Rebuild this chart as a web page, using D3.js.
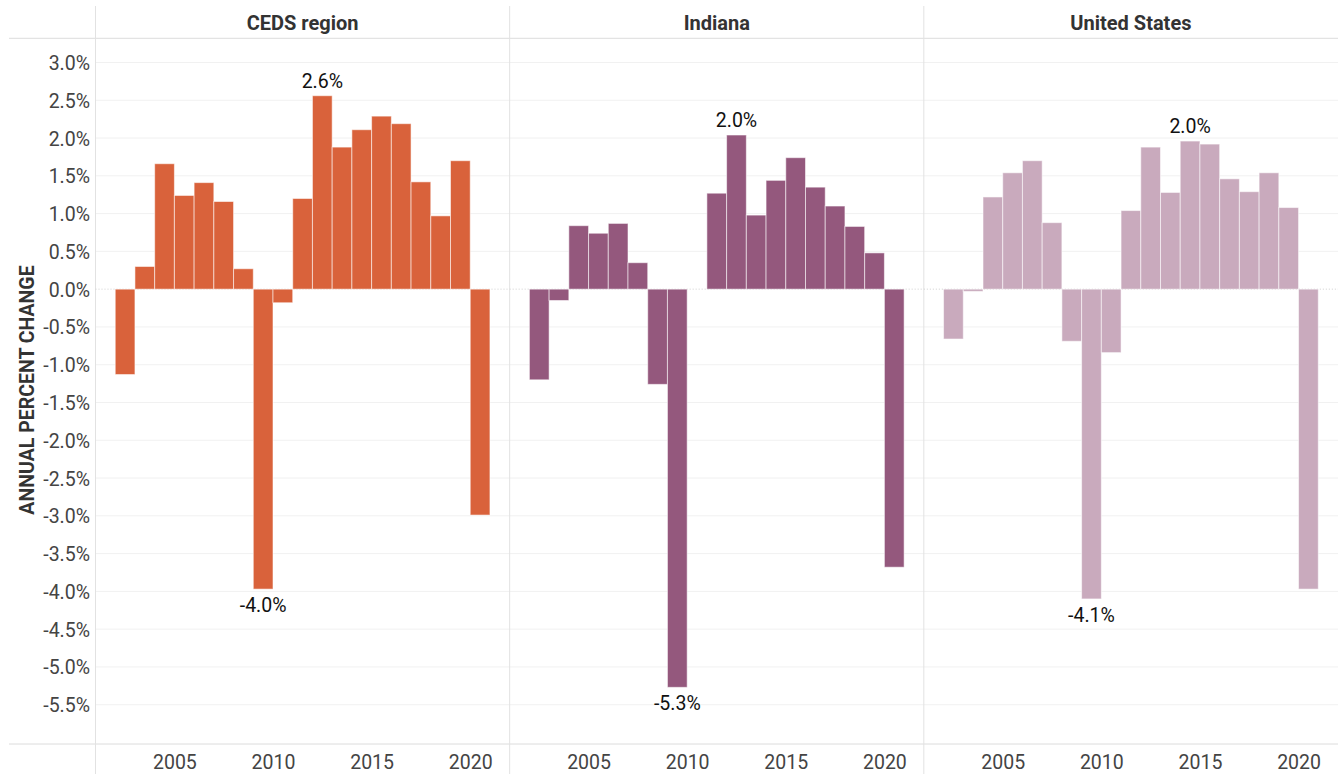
<!DOCTYPE html>
<html>
<head>
<meta charset="utf-8">
<script src="https://cdn.jsdelivr.net/npm/d3@7"></script>
<style>
  body { margin: 0; background: #fff; }
  svg text { font-family: Roboto, "Noto Sans", sans-serif; }
</style>
</head>
<body>
<div id="chart"></div>
<script>
// years shown in every panel
var years = [2002, 2003, 2004, 2005, 2006, 2007, 2008, 2009, 2010, 2011,
             2012, 2013, 2014, 2015, 2016, 2017, 2018, 2019, 2020];

var panels = ["CEDS region", "Indiana", "United States"];

// annual percent change
var cedsValues = [-1.13, 0.30, 1.66, 1.24, 1.41, 1.16, 0.27, -3.97, -0.18, 1.20,
                  2.56, 1.88, 2.11, 2.29, 2.19, 1.42, 0.97, 1.70, -2.99];
var indianaValues = [-1.20, -0.15, 0.84, 0.74, 0.87, 0.35, -1.26, -5.27, 0.00, 1.27,
                     2.04, 0.98, 1.44, 1.74, 1.35, 1.10, 0.83, 0.48, -3.68];
var usValues = [-0.66, -0.03, 1.22, 1.54, 1.70, 0.88, -0.69, -4.10, -0.84, 1.04,
                1.88, 1.28, 1.96, 1.92, 1.46, 1.29, 1.54, 1.08, -3.97];

var yTicks = [3.0, 2.5, 2.0, 1.5, 1.0, 0.5, 0.0, -0.5, -1.0, -1.5, -2.0, -2.5,
              -3.0, -3.5, -4.0, -4.5, -5.0, -5.5];
var xTicks = [2005, 2010, 2015, 2020];

var colors = ["#d9623b", "#94587d", "#c9aabd"];
var series = [cedsValues, indianaValues, usValues];

var W = 1338, H = 774;
var plotLeft = 95.5, plotTop = 38.3, plotBottom = 744;
var panelW = (W - plotLeft) / 3;

var svg = d3.select("#chart").append("svg")
    .attr("width", W)
    .attr("height", H);

var y = d3.scaleLinear().domain([-6.02, 3.32]).range([plotBottom, plotTop]);
// plain hyphen for negatives, like the original
var fmt = function(v) { return (Math.abs(v) < 1e-9 ? 0 : v).toFixed(1) + "%"; };

// grid lines across all panels
svg.append("g")
  .selectAll("line")
  .data(yTicks.filter(function(d) { return d !== 0; }))
  .join("line")
    .attr("x1", plotLeft).attr("x2", W)
    .attr("y1", function(d) { return y(d); })
    .attr("y2", function(d) { return y(d); })
    .attr("stroke", "#f1f1f1")
    .attr("stroke-width", 1);

// y axis labels
var yAxis = d3.axisLeft(y)
    .tickValues(yTicks)
    .tickSize(0)
    .tickPadding(0)
    .tickFormat(fmt);

svg.append("g")
    .attr("transform", "translate(90,0)")
    .call(yAxis)
    .call(function(g) { g.select(".domain").remove(); })
    .selectAll("text")
      .attr("font-size", 19.5)
      .attr("fill", "#444")
      .attr("dy", "0.36em");

svg.append("text")
    .attr("transform", "translate(34," + 390 + ") rotate(-90)")
    .attr("text-anchor", "middle")
    .attr("font-size", 19.5)
    .attr("font-weight", "bold")
    .attr("fill", "#333")
    .text("ANNUAL PERCENT CHANGE");

// frame lines
svg.append("line")
    .attr("x1", 9).attr("x2", W).attr("y1", plotTop).attr("y2", plotTop)
    .attr("stroke", "#dcdcdc");
svg.append("line")
    .attr("x1", 9).attr("x2", W).attr("y1", plotBottom).attr("y2", plotBottom)
    .attr("stroke", "#dcdcdc");

panels.forEach(function(name, i) {
  var x0 = plotLeft + i * panelW;
  var values = series[i];
  var data = years.map(function(yr, j) { return {year: yr, value: values[j]}; });

  var x = d3.scaleLinear().domain([2001, 2022]).range([x0, x0 + panelW]);

  var g = svg.append("g");

  // divider
  g.append("line")
      .attr("x1", x0).attr("x2", x0)
      .attr("y1", 6).attr("y2", H)
      .attr("stroke", "#e2e2e2");

  // zero line
  g.append("line")
      .attr("x1", x0).attr("x2", x0 + panelW)
      .attr("y1", y(0)).attr("y2", y(0))
      .attr("stroke", "#cfcfcf")
      .attr("stroke-dasharray", "1,2");

  // header title
  g.append("text")
      .attr("x", x0 + panelW / 2)
      .attr("y", 30)
      .attr("text-anchor", "middle")
      .attr("font-size", 20)
      .attr("font-weight", "bold")
      .attr("fill", "#333")
      .text(name);

  g.append("g")
    .selectAll("rect")
    .data(data)
    .join("rect")
      .attr("x", function(d) { return x(d.year); })
      .attr("width", function(d) { return x(d.year + 1) - x(d.year); })
      .attr("y", function(d) { return y(Math.max(0, d.value)); })
      .attr("height", function(d) { return Math.abs(y(d.value) - y(0)); })
      .attr("fill", colors[i])
      .attr("stroke", "#fff")
      .attr("stroke-opacity", 0.55)
      .attr("stroke-width", 1);

  // max / min labels
  var maxD = data.reduce(function(a, b) { return b.value > a.value ? b : a; });
  var minD = data.reduce(function(a, b) { return b.value < a.value ? b : a; });

  g.append("text")
      .attr("x", x(maxD.year + 0.5))
      .attr("y", y(maxD.value) - 8)
      .attr("text-anchor", "middle")
      .attr("font-size", 19.5)
      .attr("fill", "#111")
      .text(fmt(maxD.value));

  g.append("text")
      .attr("x", x(minD.year + 0.5))
      .attr("y", y(minD.value) + 23)
      .attr("text-anchor", "middle")
      .attr("font-size", 19.5)
      .attr("fill", "#111")
      .text(fmt(minD.value));

  // x axis
  var xAxis = d3.axisBottom(x)
      .tickValues(xTicks)
      .tickSize(0)
      .tickPadding(0)
      .tickFormat(d3.format("d"));

  g.append("g")
      .attr("transform", "translate(0," + 769 + ")")
      .call(xAxis)
      .call(function(a) { a.select(".domain").remove(); })
      .selectAll("text")
        .attr("font-size", 19.5)
        .attr("fill", "#444")
        .attr("dy", 0);
});
</script>
</body>
</html>
